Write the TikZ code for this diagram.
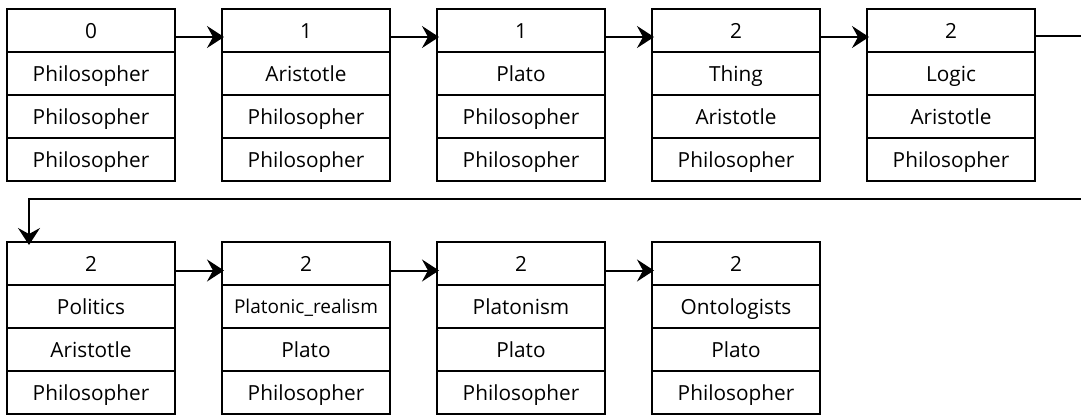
\documentclass[tikz,border=0pt]{standalone}
\usepackage{fontspec}
\setmainfont{Open Sans}
\usetikzlibrary{arrows.meta}
\tikzset{
  cell/.style={draw, line width=2pt, minimum width=168pt, minimum height=43pt,
    inner sep=0pt, outer sep=0pt, text height=15pt, text depth=0pt,
    font=\fontsize{20.8}{24}\selectfont},
  small/.style={font=\fontsize{19}{22}\selectfont, text height=14pt},
  link/.style={line width=2pt, -{Stealth[length=17pt,width=22pt,inset=6pt]}},
}
\newcommand\mybox[8][]{%
  \node[cell,anchor=north west] (#2a) at (#3,#4) {#5};
  \node[cell,anchor=north,#1] (#2b) at (#2a.south) {#6};
  \node[cell,anchor=north] (#2c) at (#2b.south) {#7};
  \node[cell,anchor=north] (#2d) at (#2c.south) {#8};
}
\begin{document}
\begin{tikzpicture}[x=1pt,y=-1pt]
\useasboundingbox (0,0) rectangle (1081,415);
\mybox{b1}{7}{9}{0}{Philosopher}{Philosopher}{Philosopher}
\mybox{b2}{222}{9}{1}{Aristotle}{Philosopher}{Philosopher}
\mybox{b3}{437}{9}{1}{Plato}{Philosopher}{Philosopher}
\mybox{b4}{652}{9}{2}{Thing}{Aristotle}{Philosopher}
\mybox{b5}{867}{9}{2}{Logic}{Aristotle}{Philosopher}
\mybox{b6}{7}{242}{2}{Politics}{Aristotle}{Philosopher}
\mybox[small]{b7}{222}{242}{2}{Platonic\_realism}{Plato}{Philosopher}
\mybox{b8}{437}{242}{2}{Platonism}{Plato}{Philosopher}
\mybox{b9}{652}{242}{2}{Ontologists}{Plato}{Philosopher}
\draw[link] ([yshift=-6.5pt]b1a.east) -- ([yshift=-6.5pt,xshift=2pt]b2a.west);
\draw[link] ([yshift=-6.5pt]b2a.east) -- ([yshift=-6.5pt,xshift=2pt]b3a.west);
\draw[link] ([yshift=-6.5pt]b3a.east) -- ([yshift=-6.5pt,xshift=2pt]b4a.west);
\draw[link] ([yshift=-6.5pt]b4a.east) -- ([yshift=-6.5pt,xshift=2pt]b5a.west);
\coordinate (turnR) at (1090,199);
\coordinate (turnL) at (29,199);
\draw[link] ([yshift=-5pt]b5a.east) -| (turnR) -- (turnL) -- ([yshift=-3pt]b6a.north -| turnL);
\draw[link] ([yshift=-7pt]b6a.east) -- ([yshift=-7pt,xshift=2pt]b7a.west);
\draw[link] ([yshift=-7pt]b7a.east) -- ([yshift=-7pt,xshift=2pt]b8a.west);
\draw[link] ([yshift=-7pt]b8a.east) -- ([yshift=-7pt,xshift=2pt]b9a.west);
\end{tikzpicture}
\end{document}
